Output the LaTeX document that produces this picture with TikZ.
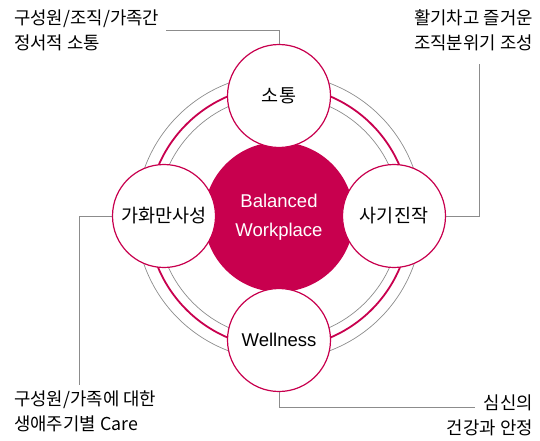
\documentclass[tikz,border=0pt]{standalone}
\usepackage{fontspec}
\setmainfont{Liberation Sans}
\newfontfamily\kr{Noto Sans CJK KR}
\usetikzlibrary{positioning}
\definecolor{wred}{RGB}{200,0,78}
\definecolor{ringgray}{RGB}{140,140,140}

\begin{document}
\begin{tikzpicture}[x=1pt, y=-1pt,
    ring/.style={draw=ringgray, line width=0.7pt},
    redring/.style={draw=wred, line width=1.8pt},
    core/.style={circle, fill=wred, minimum size=150pt, inner sep=0pt,
      text=white, align=center, font=\fontsize{18.5}{29}\selectfont},
    pillar/.style={circle, draw=wred, line width=1.2pt, fill=white,
      minimum size=103pt, inner sep=0pt, font=\kr\fontsize{18.5}{20}\selectfont},
    note/.style={inner sep=0pt, font=\kr\fontsize{17.8}{25}\selectfont},
    conn/.style={draw=ringgray, line width=0.8pt}]

  \useasboundingbox (0,0) rectangle (540,441);

  % rings behind everything
  \draw[ring] (279,217) circle (143);
  \draw[redring] (279,217) circle (131);
  \draw[ring] (279,217) circle (121.5);

  % central disc
  \node[core] (bw) at (279,217) {Balanced\\Workplace};

  % the four pillars
  \node[pillar] (comm) at (279,96) {소통};
  \node[pillar] (family) at (164,216) {가화만사성};
  \node[pillar] (morale) at (394,216) {사기진작};
  \node[pillar, font=\fontsize{18.5}{20}\selectfont] (well) at (279,340) {Wellness};

  % notes
  \node[note, anchor=west, align=left] (ncomm) at (14,30)
    {구성원/조직/가족간\\정서적 소통};
  \node[note, anchor=east, align=right] (nmorale) at (533,30)
    {활기차고 즐거운\\조직분위기 조성};
  \node[note, anchor=west, align=left] (nfamily) at (14,411)
    {구성원/가족에 대한\\생애주기별 Care};
  \node[note, anchor=east, align=right] (nwell) at (533,415)
    {심신의\\건강과 안정};

  % leader lines
  \coordinate (ecomm) at (166,30);
  \coordinate (emorale) at (479,64);
  \coordinate (efamily) at (79,385);
  \coordinate (ewell) at (475,407);
  \draw[conn] (ecomm) -| (comm.north);
  \draw[conn] (morale.east) -| (emorale);
  \draw[conn] (family.west) -| (efamily);
  \draw[conn] (well.south) |- (ewell);

\end{tikzpicture}
\end{document}
